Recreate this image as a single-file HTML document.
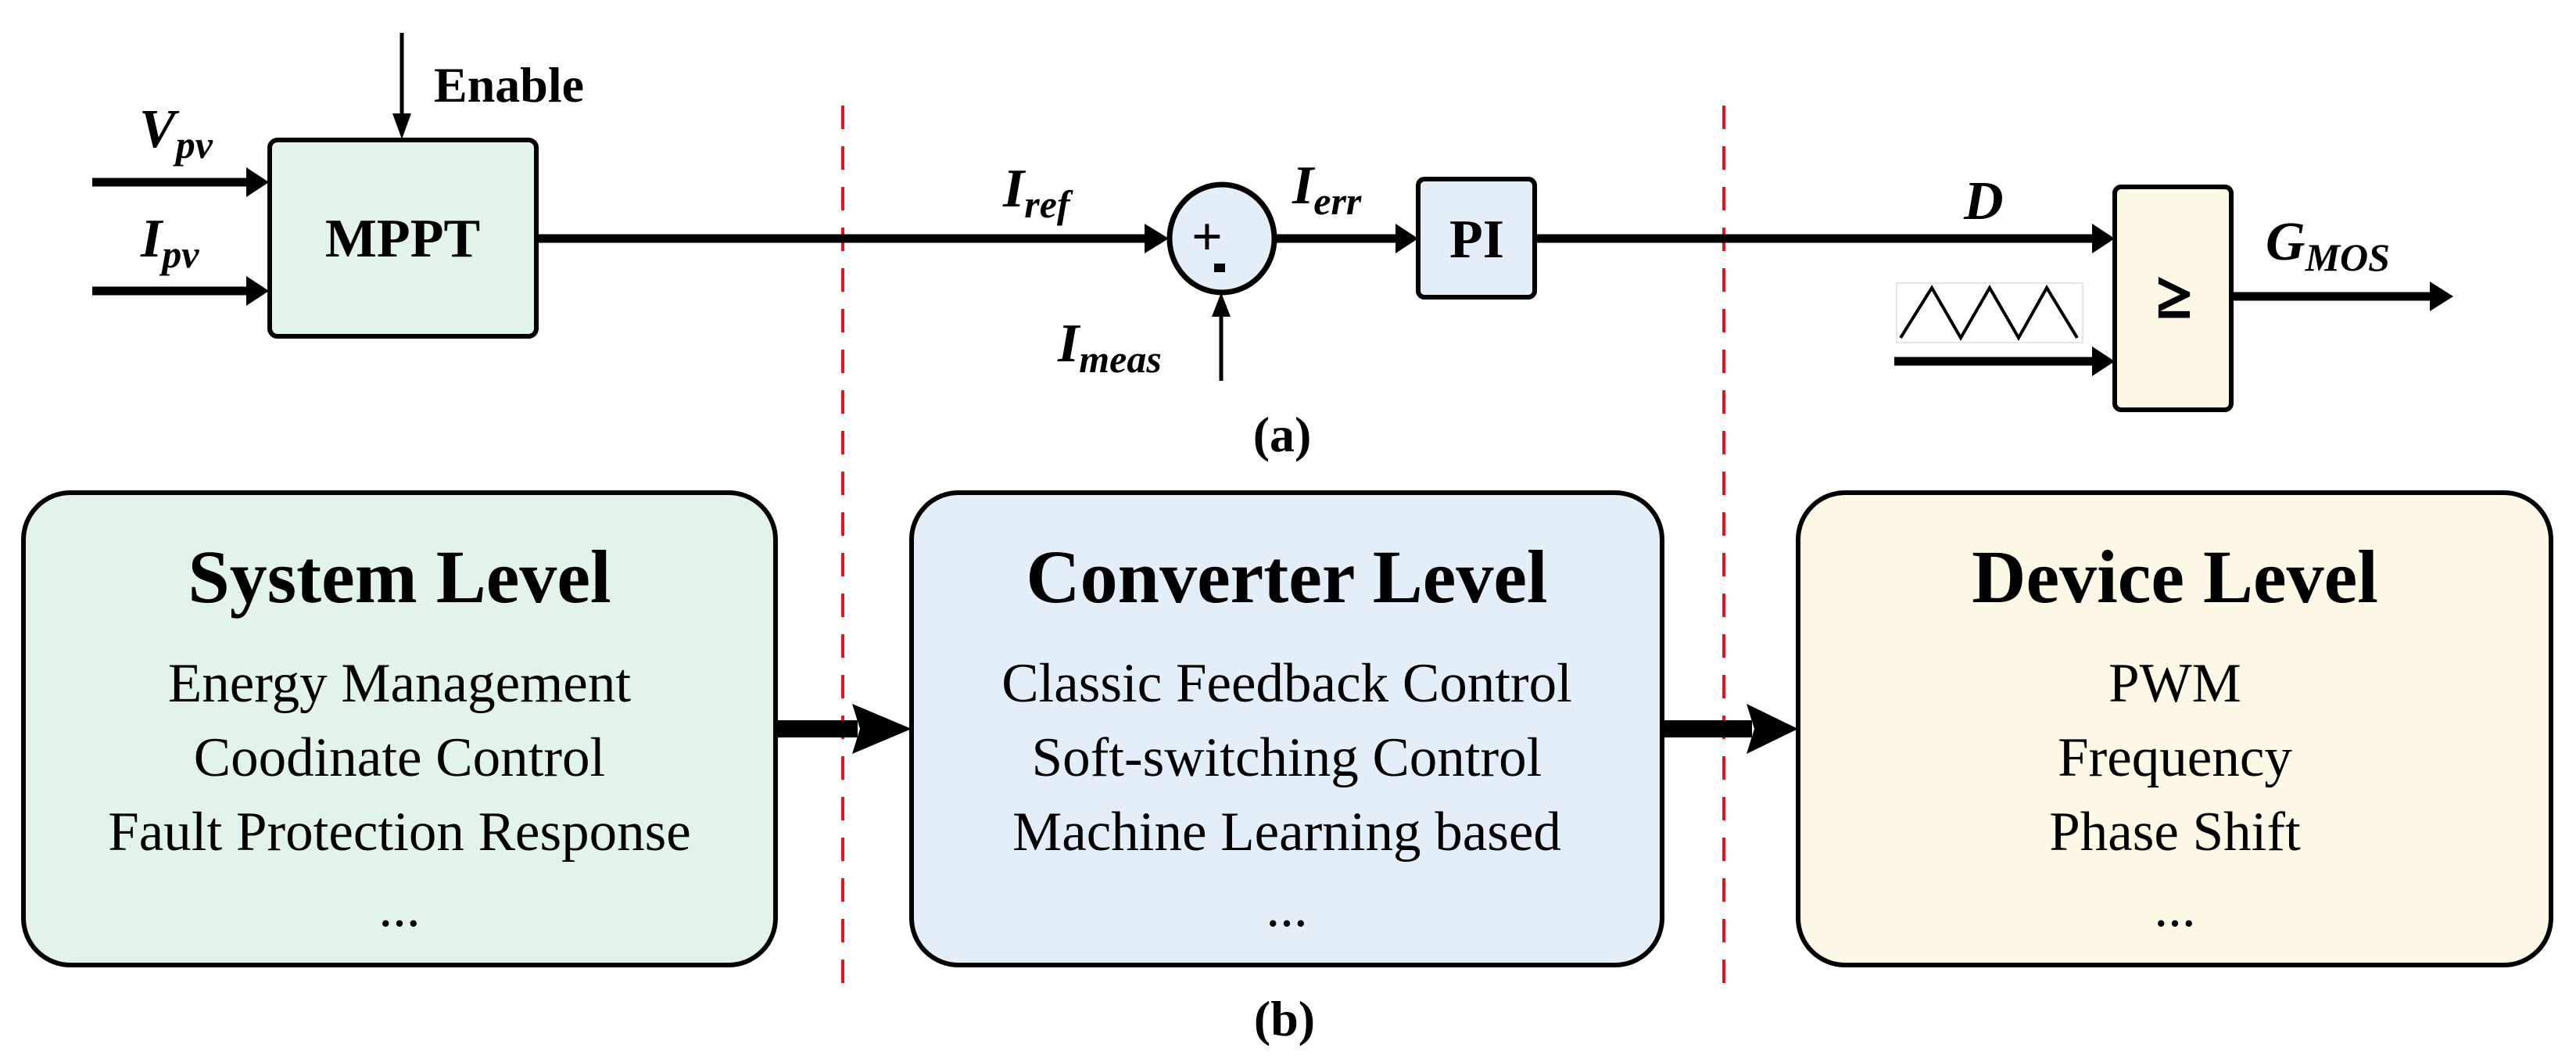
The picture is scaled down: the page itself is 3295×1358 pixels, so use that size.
<!DOCTYPE html>
<html><head><meta charset="utf-8"><style>
html,body{margin:0;padding:0;background:#fff;}
svg{display:block;}
text{font-family:"Liberation Serif",serif;}
</style></head><body>
<svg width="3295" height="1358" viewBox="0 0 3295 1358" xmlns="http://www.w3.org/2000/svg">
<!-- red dashed lines -->
<line x1="1078" y1="135" x2="1078" y2="1272" stroke="#e8141b" stroke-width="4" stroke-dasharray="30,22"/>
<line x1="2205" y1="135" x2="2205" y2="1272" stroke="#e8141b" stroke-width="4" stroke-dasharray="30,22"/>

<!-- MPPT -->
<rect x="345" y="179" width="341" height="251" rx="10" fill="#e2f4ea" stroke="#000" stroke-width="6"/>
<text x="515" y="328" font-size="70" font-weight="bold" text-anchor="middle">MPPT</text>
<!-- Enable -->
<line x1="514" y1="42" x2="514" y2="150" stroke="#000" stroke-width="5"/>
<polygon points="502,145 526,145 514,178" fill="#000"/>
<text x="555" y="130" font-size="64" font-weight="bold">Enable</text>
<!-- Vpv / Ipv arrows -->
<line x1="118" y1="233" x2="318" y2="233" stroke="#000" stroke-width="11"/>
<polygon points="315,214 315,252 344,233" fill="#000"/>
<line x1="118" y1="372" x2="318" y2="372" stroke="#000" stroke-width="11"/>
<polygon points="315,353 315,391 344,372" fill="#000"/>
<text x="178" y="188" font-size="70" font-weight="bold" font-style="italic">V<tspan font-size="50" dy="14">pv</tspan></text>
<text x="180" y="328" font-size="70" font-weight="bold" font-style="italic">I<tspan font-size="50" dy="14">pv</tspan></text>

<!-- main line to summing junction -->
<line x1="686" y1="305" x2="1468" y2="305" stroke="#000" stroke-width="11"/>
<polygon points="1464,286 1464,324 1495,305" fill="#000"/>
<text x="1283" y="264" font-size="70" font-weight="bold" font-style="italic">I<tspan font-size="50" dy="14">ref</tspan></text>
<ellipse cx="1563" cy="305" rx="67" ry="69" fill="#e3eef8" stroke="#000" stroke-width="7"/>
<text x="1524" y="326" font-size="70" font-weight="bold">+</text>
<rect x="1553" y="337" width="14" height="11" fill="#000"/>
<!-- Imeas -->
<line x1="1562" y1="487" x2="1562" y2="400" stroke="#000" stroke-width="5"/>
<polygon points="1550,405 1574,405 1562,374" fill="#000"/>
<text x="1353" y="462" font-size="70" font-weight="bold" font-style="italic">I<tspan font-size="50" dy="14">meas</tspan></text>
<!-- Ierr -->
<line x1="1631" y1="305" x2="1790" y2="305" stroke="#000" stroke-width="11"/>
<polygon points="1785,286 1785,324 1814,305" fill="#000"/>
<text x="1653" y="260" font-size="70" font-weight="bold" font-style="italic">I<tspan font-size="50" dy="14">err</tspan></text>
<!-- PI -->
<rect x="1814" y="229" width="149" height="151" rx="8" fill="#e3eef8" stroke="#000" stroke-width="6"/>
<text x="1889" y="329" font-size="70" font-weight="bold" text-anchor="middle">PI</text>
<!-- D -->
<line x1="1963" y1="305" x2="2680" y2="305" stroke="#000" stroke-width="11"/>
<polygon points="2676,286 2676,324 2705,305" fill="#000"/>
<text x="2512" y="280" font-size="70" font-weight="bold" font-style="italic">D</text>
<!-- comparator -->
<rect x="2705" y="239" width="149" height="285" rx="8" fill="#fef8e6" stroke="#000" stroke-width="6"/>
<text x="2781" y="405" font-size="80" font-weight="bold" text-anchor="middle" stroke="#000" stroke-width="3">≥</text>
<line x1="2854" y1="379" x2="3112" y2="379" stroke="#000" stroke-width="11"/>
<polygon points="3108,360 3108,398 3138,379" fill="#000"/>
<text x="2898" y="332" font-size="70" font-weight="bold" font-style="italic">G<tspan font-size="50" dy="14">MOS</tspan></text>
<!-- triangle wave -->
<rect x="2426" y="362" width="238" height="76" fill="#fff" stroke="#ddd" stroke-width="1.5"/>
<polyline points="2431,432 2471,368 2508,432 2545,368 2582,432 2618,368 2657,432" fill="none" stroke="#000" stroke-width="4"/>
<line x1="2423" y1="462" x2="2680" y2="462" stroke="#000" stroke-width="11"/>
<polygon points="2676,443 2676,481 2705,462" fill="#000"/>
<text x="1640" y="577" font-size="64" font-weight="bold" text-anchor="middle">(a)</text>

<!-- bottom boxes -->
<rect x="30" y="630" width="962" height="604" rx="60" fill="#e2f4ea" stroke="#000" stroke-width="6"/>
<rect x="1166" y="630" width="960" height="604" rx="60" fill="#e3eef8" stroke="#000" stroke-width="6"/>
<rect x="2300" y="630" width="963" height="604" rx="60" fill="#fef8e6" stroke="#000" stroke-width="6"/>

<g font-size="96" font-weight="bold" text-anchor="middle">
<text x="511" y="770">System Level</text>
<text x="1646" y="770">Converter Level</text>
<text x="2782" y="770">Device Level</text>
</g>
<g font-size="71" text-anchor="middle">
<text x="511" y="897">Energy Management</text>
<text x="511" y="992">Coodinate Control</text>
<text x="511" y="1087">Fault Protection Response</text>
<text x="511" y="1184">...</text>
<text x="1646" y="897">Classic Feedback Control</text>
<text x="1646" y="992">Soft-switching Control</text>
<text x="1646" y="1087">Machine Learning based</text>
<text x="1646" y="1184">...</text>
<text x="2782" y="897">PWM</text>
<text x="2782" y="992">Frequency</text>
<text x="2782" y="1087">Phase Shift</text>
<text x="2782" y="1184">...</text>
</g>
<!-- thick arrows -->
<rect x="992" y="921" width="105" height="22" fill="#000"/>
<polygon points="1090,900 1166,932 1090,964 1100,932" fill="#000"/>
<rect x="2126" y="921" width="115" height="22" fill="#000"/>
<polygon points="2234,900 2300,932 2234,964 2244,932" fill="#000"/>
<text x="1643" y="1324" font-size="64" font-weight="bold" text-anchor="middle">(b)</text>
</svg>
</body></html>
